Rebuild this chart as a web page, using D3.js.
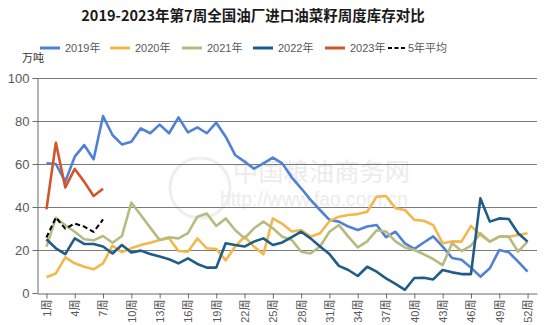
<!DOCTYPE html>
<html>
<head>
<meta charset="utf-8">
<script src="https://cdn.jsdelivr.net/npm/d3@7"></script>
<style>
  html, body { margin: 0; padding: 0; background: #fff; }
  svg { display: block; }
</style>
</head>
<body>
<svg id="chart" width="550" height="325"></svg>
<script>
// Weekly imported rapeseed stocks at oil mills, 10k tonnes, weeks 1-52
const weeks = d3.range(1, 53);
const y2019 = [60.3, 60, 51.8, 63.4, 68.8, 62.2, 82.3, 73.5, 69.1, 70.4, 76.6, 74.3, 78.3,
  74.3, 81.7, 74.7, 77, 74.3, 79.2, 72.7, 64.2, 61.1, 57.8, 60.3, 63, 60.3,
  53.8, 48.7, 43.3, 38.6, 34, 33.2, 30.9, 29.3, 30.9, 31.6, 26, 28.5, 23.1,
  20.5, 23.5, 26.3, 21.6, 16.3, 15.5, 11.8, 7.6, 11.5, 20, 19, 14.6, 9.9];
const y2020 = [7.3, 9.1, 16.6, 13.8, 12.2, 11, 13.8, 22, 19, 20.8, 22.3, 23.4, 24.7,
  25.5, 19.5, 19.2, 25.4, 20.8, 20.5, 15.2, 21.6, 26.2, 21.6, 18, 34.7, 32.2,
  28.6, 29.3, 26.2, 27.8, 33.4, 35.5, 36.3, 36.7, 37.8, 44.8, 45.1, 39.4, 38.6,
  34, 33.6, 31.6, 23.1, 24, 23.9, 31.2, 27, 23.9, 26.2, 26.2, 27, 27.8];
const y2021 = [21.5, 35, 31.5, 28.5, 25, 24.5, 26.5, 23.4, 26.5, 42, 36.3, 30.4, 24.7,
  25.9, 25.4, 27.8, 35.5, 37, 31.2, 34.7, 29.3, 25.4, 30.1, 33.2, 30.1, 26.2,
  24.7, 19.2, 18.4, 21.6, 28.5, 31.6, 26.2, 21.2, 24, 29.2, 28.6, 24, 21.2,
  20, 18, 15.8, 13, 23.1, 19.5, 22, 27.8, 23.9, 26.2, 26.2, 19.2, 23.9];
const y2022 = [25, 20.8, 18.1, 25.4, 22.8, 22.8, 21.6, 18.4, 22.3, 18.8, 19.7, 18.1, 17,
  15.7, 13.8, 16.1, 13.5, 11.8, 11.8, 23.1, 22.3, 21.6, 23.9, 25.4, 22.3, 23.5,
  26, 28.5, 25.4, 21.6, 18.1, 12.6, 10.7, 7.9, 12.2, 9.9, 6.8, 4.2, 1.5,
  7, 7.1, 6.3, 10.7, 9.6, 8.8, 8.8, 44, 33.2, 34.7, 34.4, 27.8, 23.9];
const y2023 = [38.9, 69.9, 49.1, 57.7, 51.8, 45.1, 48.5];
const avg5 = [25.8, 35.1, 29.9, 32.3, 30.9, 28.4, 34.2];

const seriesNames = ["2019年", "2020年", "2021年", "2022年", "2023年", "5年平均"];
const seriesColors = ["#4f81d6", "#f2b84b", "#b8bb80", "#1f5c88", "#d4552b", "#000000"];
const seriesValues = [y2019, y2020, y2021, y2022, y2023, avg5];

const yTicks = [0, 20, 40, 60, 80, 100];
const xTickWeeks = [1, 4, 7, 10, 13, 16, 19, 22, 25, 28, 31, 34, 37, 40, 43, 46, 49, 52];

const titleText = "2019-2023年第7周全国油厂进口油菜籽周度库存对比";
const unitText = "万吨";

const FONT = "'Liberation Sans', 'Noto Sans CJK SC', sans-serif";
const CJK = "'Noto Sans CJK SC', 'Liberation Sans', sans-serif";

const svg = d3.select("#chart");

const plot = { left: 37, right: 537, top: 78, bottom: 293 };
const x = d3.scaleLinear().domain([0, 53]).range([plot.left, plot.right]);
const y = d3.scaleLinear().domain([0, 100]).range([plot.bottom, plot.top]);

// Title
svg.append("text")
  .attr("x", 253).attr("y", 21)
  .attr("text-anchor", "middle")
  .attr("font-family", CJK)
  .attr("font-weight", "bold")
  .attr("font-size", 14.5)
  .attr("fill", "#1a1a1a")
  .text(titleText);

// Faint site watermark behind the data
const wm = svg.append("g").attr("fill", "#ececec").attr("font-family", CJK);
wm.append("circle").attr("cx", 200).attr("cy", 188).attr("r", 30)
  .attr("fill", "none").attr("stroke", "#eeeeee").attr("stroke-width", 3);
wm.append("text").attr("x", 233).attr("y", 181)
  .attr("font-size", 25).attr("textLength", 177).attr("lengthAdjust", "spacingAndGlyphs")
  .text("中国粮油商务网");
wm.append("text").attr("x", 220).attr("y", 206)
  .attr("font-family", FONT)
  .attr("font-size", 20).attr("textLength", 188).attr("lengthAdjust", "spacingAndGlyphs")
  .text("http://www.fao.com.cn");

// Horizontal gridlines
svg.append("g")
  .selectAll("line")
  .data(yTicks.filter(d => d > 0))
  .join("line")
  .attr("x1", plot.left).attr("x2", plot.right)
  .attr("y1", d => Math.round(y(d)) + 0.5).attr("y2", d => Math.round(y(d)) + 0.5)
  .attr("stroke", "#7a7a7a").attr("stroke-width", 1);

// Y axis
const yAxis = svg.append("g")
  .attr("transform", `translate(${plot.left + 0.5},0)`)
  .call(d3.axisLeft(y).tickValues(yTicks).tickSize(5).tickPadding(3).tickSizeOuter(0));
yAxis.select(".domain").attr("stroke", "#6a6a6a");
yAxis.selectAll(".tick line").attr("stroke", "#6a6a6a");
yAxis.selectAll(".tick text")
  .attr("font-family", FONT).attr("font-size", 13).attr("fill", "#595959");

// X axis
const xAxis = svg.append("g")
  .attr("transform", `translate(0,${Math.round(plot.bottom) + 0.5})`)
  .call(d3.axisBottom(x).tickValues(xTickWeeks).tickSize(5).tickSizeOuter(0).tickFormat(d => d + "周"));
xAxis.select(".domain").attr("stroke", "#6a6a6a");
xAxis.selectAll(".tick line").attr("stroke", "#6a6a6a");
xAxis.selectAll(".tick text")
  .attr("font-family", FONT).attr("font-size", 11).attr("fill", "#595959")
  .attr("text-anchor", "end")
  .attr("transform", "translate(0,6) rotate(-90)")
  .attr("x", 0).attr("y", 0).attr("dx", 0).attr("dy", "0.35em");

// Unit label
svg.append("text")
  .attr("x", 22).attr("y", 62)
  .attr("font-family", CJK).attr("font-size", 11).attr("fill", "#333")
  .text(unitText);

// Data lines
const line = d3.line()
  .x((d, i) => x(weeks[i]))
  .y(d => y(d));

svg.append("g")
  .selectAll("path")
  .data(seriesValues)
  .join("path")
  .attr("d", d => line(d))
  .attr("fill", "none")
  .attr("stroke", (d, i) => seriesColors[i])
  .attr("stroke-width", (d, i) => i === 5 ? 2 : 2.6)
  .attr("stroke-dasharray", (d, i) => i === 5 ? "5,3" : null)
  .attr("stroke-linejoin", "round");

// Legend
const legendX = [40, 110, 182, 253, 325, 388];
const legend = svg.append("g");
seriesNames.forEach((name, i) => {
  const g = legend.append("g").attr("transform", `translate(${legendX[i]},48)`);
  g.append("line")
    .attr("x1", 0).attr("x2", i === 5 ? 17 : 20)
    .attr("y1", 0).attr("y2", 0)
    .attr("stroke", seriesColors[i])
    .attr("stroke-width", i === 5 ? 2 : 3)
    .attr("stroke-dasharray", i === 5 ? "4,2.5" : null);
  g.append("text")
    .attr("x", i === 5 ? 20 : 25).attr("y", 4)
    .attr("font-family", FONT).attr("font-size", 11).attr("fill", "#595959")
    .text(name);
});
</script>
</body>
</html>
